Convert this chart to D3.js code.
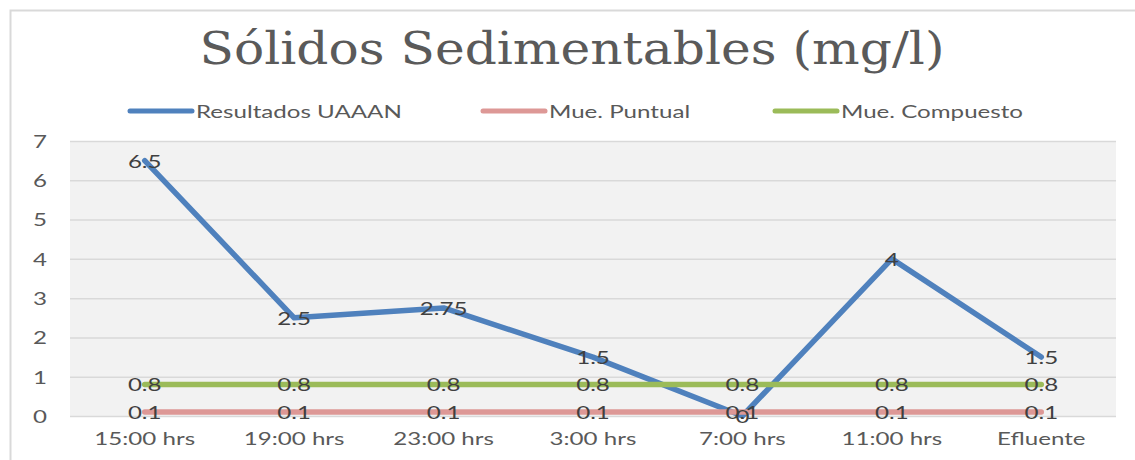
<!DOCTYPE html>
<html>
<head>
<meta charset="utf-8">
<script src="https://cdn.jsdelivr.net/npm/d3@7"></script>
<style>
  body { margin: 0; background: #fff; }
  text { font-family: Lato, "Open Sans", sans-serif; fill: #595959; }
</style>
</head>
<body>
<div id="chart"></div>
<script>
// chart values
const categories = ["15:00 hrs", "19:00 hrs", "23:00 hrs", "3:00 hrs", "7:00 hrs", "11:00 hrs", "Efluente"];
const resultados = [6.5, 2.5, 2.75, 1.5, 0, 4, 1.5];
const puntual = [0.1, 0.1, 0.1, 0.1, 0.1, 0.1, 0.1];
const compuesto = [0.8, 0.8, 0.8, 0.8, 0.8, 0.8, 0.8];
const yTicks = [0, 1, 2, 3, 4, 5, 6, 7];

const series = [
  {name: "Resultados UAAAN", values: resultados, color: "#4f81bd"},
  {name: "Mue. Puntual", values: puntual, color: "#dd9896"},
  {name: "Mue. Compuesto", values: compuesto, color: "#9bbb59"}
];

const W = 1135, H = 460;
const margin = {top: 141, right: 19, bottom: 44, left: 70};
const width = W - margin.left - margin.right,
      height = H - margin.top - margin.bottom;
const sx = 1.42; // the picture is stretched sideways
const fs = 17;

const svg = d3.select("#chart").append("svg")
  .attr("width", W).attr("height", H);

// chart frame
svg.append("path")
  .attr("d", "M" + (W + 5) + ",10.5 H10.5 V" + (H + 5))
  .attr("fill", "none").attr("stroke", "#d9d9d9").attr("stroke-width", 2);

// stretched text helper
function label(g, x, y, txt, size, anchor) {
  return g.append("text")
    .attr("transform", "translate(" + x + "," + y + ") scale(" + sx + ",1)")
    .attr("text-anchor", anchor || "middle")
    .attr("dominant-baseline", "central")
    .style("font-size", size + "px")
    .text(txt);
}

// title
svg.append("text")
  .attr("x", 572).attr("y", 64)
  .attr("text-anchor", "middle")
  .attr("textLength", 745).attr("lengthAdjust", "spacingAndGlyphs")
  .style("font-family", "'DejaVu Serif', serif")
  .style("font-size", "45px")
  .style("fill", "#5a5a5a")
  .text("Sólidos Sedimentables (mg/l)");

// legend
const legendX = [130, 483, 775];
const legend = svg.append("g");
series.forEach((s, i) => {
  legend.append("line")
    .attr("x1", legendX[i]).attr("x2", legendX[i] + 62)
    .attr("y1", 111).attr("y2", 111)
    .attr("stroke", s.color).attr("stroke-width", 5)
    .attr("stroke-linecap", "round");
  label(legend, legendX[i] + 66, 111, s.name, fs, "start");
});

const g = svg.append("g")
  .attr("transform", "translate(" + margin.left + "," + margin.top + ")");

const x = d3.scaleBand().domain(categories).range([0, width]);
const y = d3.scaleLinear().domain([0, 7]).range([height, 0]);
const cx = d => x(d) + x.bandwidth() / 2;

g.append("rect")
  .attr("width", width).attr("height", height)
  .attr("fill", "#f2f2f2");

// gridlines
g.append("g")
  .call(d3.axisLeft(y).tickValues(yTicks).tickSize(-width).tickFormat(""))
  .call(a => a.select(".domain").remove())
  .call(a => a.selectAll("line").attr("stroke", "#d9d9d9").attr("stroke-width", 1.5));

// y tick labels
yTicks.forEach(t => label(g, -30, y(t), t, fs));

// x tick labels
categories.forEach(c => label(g, cx(c), height + 22, c, fs));

// lines
const line = d3.line()
  .x((d, i) => cx(categories[i]))
  .y(d => y(d));

series.forEach(s => {
  g.append("path")
    .datum(s.values)
    .attr("d", line)
    .attr("fill", "none")
    .attr("stroke", s.color)
    .attr("stroke-width", 5.5)
    .attr("stroke-linecap", "round")
    .attr("stroke-linejoin", "round");
});

// data labels
series.forEach(s => {
  s.values.forEach((v, i) => {
    label(g, cx(categories[i]), y(v), v, fs).style("fill", "#404040");
  });
});
</script>
</body>
</html>
